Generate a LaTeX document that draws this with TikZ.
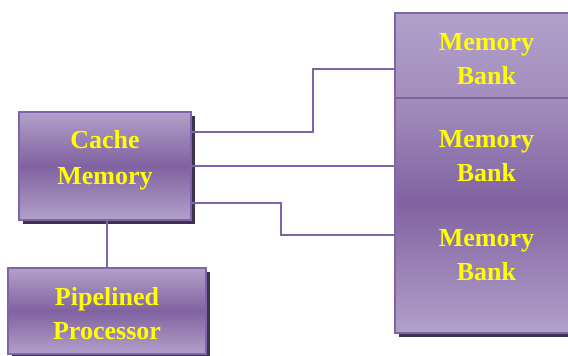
\documentclass[tikz,border=0pt]{standalone}
\usepackage{fontspec}
\setmainfont{Liberation Serif}
\usetikzlibrary{shadows}
\definecolor{mylight}{RGB}{178,160,202}
\definecolor{mydark}{RGB}{128,98,160}
\definecolor{myedge}{RGB}{128,100,168}
\definecolor{myshadow}{RGB}{62,50,82}
\definecolor{myyellow}{RGB}{255,255,0}

\tikzset{
  box/.style={draw=myedge,line width=1.6pt,inner sep=0pt,
    drop shadow={shadow xshift=4pt,shadow yshift=-4pt,fill=myshadow,opacity=1}},
  unit/.style={box,top color=mylight,bottom color=mylight,middle color=mydark},
  lbl/.style={text=myyellow,align=center,inner sep=0pt,
    font=\fontsize{26}{34}\selectfont\bfseries},
  wire/.style={myedge,line width=1.6pt}
}

\begin{document}
\begin{tikzpicture}[x=1pt,y=-1pt]
  \clip (0,0) rectangle (568,356);
  % cache and processor
  \node[unit,minimum width=172pt,minimum height=108pt] (cache) at (105,166) {};
    \node[lbl] (cachetxt) at (105,160) {Cache\\[2pt]Memory};
  \node[unit,minimum width=198pt,minimum height=86pt] (proc) at (107,311) {};
    \node[lbl] (proctxt) at (107,314) {Pipelined\\Processor};
  % memory banks, one column
  \node[box,top color=mylight,bottom color=mylight!70!mydark,
    minimum width=183pt,minimum height=85pt] (bank1) at (486.5,55.5) {};
  \node[box,top color=mylight!70!mydark,bottom color=mydark,
    minimum width=183pt,minimum height=104pt] (bank2) at (486.5,150) {};
  \node[box,top color=mydark,bottom color=mylight,
    minimum width=183pt,minimum height=131pt] (bank3) at (486.5,267.5) {};
    \node[lbl] (bank1txt) at (486.5,59.5) {Memory\\Bank};
    \node[lbl] (bank2txt) at (486.5,156) {Memory\\Bank};
    \node[lbl] (bank3txt) at (486.5,255) {Memory\\Bank};
  % wires
  \draw[wire] ([yshift=34pt]cache.east) -- ++(121,0) |- ([yshift=-13.5pt]bank1.west);
  \draw[wire] (cache.east) -- (cache.east -| bank2.west);
  \draw[wire] ([yshift=-37pt]cache.east) -- ++(89,0) |- ([yshift=32.5pt]bank3.west);
  \draw[wire] (proc.north) -- (proc.north |- cache.south);
\end{tikzpicture}
\end{document}
